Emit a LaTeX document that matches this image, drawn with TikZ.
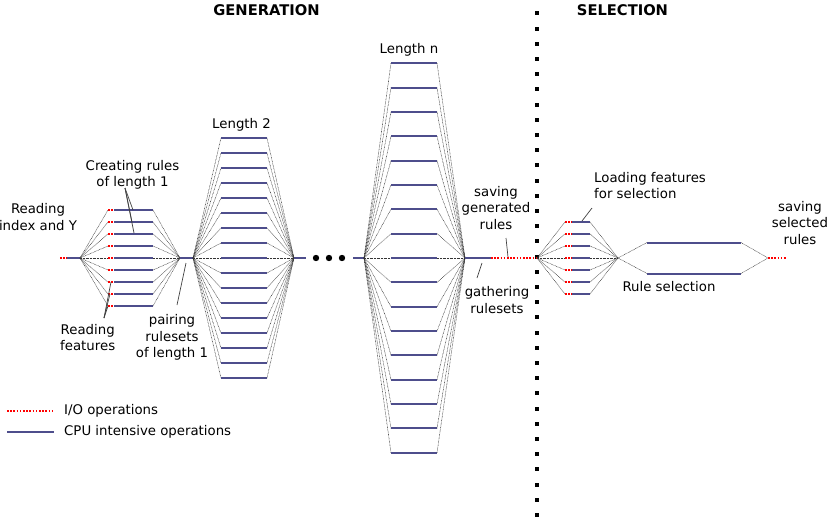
\documentclass[tikz,border=0pt]{standalone}
\usepackage{fontspec}
\setmainfont{DejaVu Sans}
\definecolor{cpublue}{RGB}{78,78,140}
\begin{document}
\begin{tikzpicture}[x=1pt,y=-1pt,
  cpu/.style={draw=cpublue, line width=2pt},
  io/.style={draw=red, line width=1.8pt, dash pattern=on 1.6pt off 1.6pt},
  fan/.style={draw=black!80, line width=0.5pt, dash pattern=on 0.7pt off 0.7pt},
  ptr/.style={draw=black!75, line width=0.7pt},
  lbl/.style={font=\fontsize{13.3}{16.3}\selectfont, align=center, inner sep=0pt},
  ttl/.style={font=\bfseries\fontsize{14.7}{17}\selectfont, inner sep=0pt}]
\useasboundingbox (0,0) rectangle (831,517);

% titles
\node[ttl] (tgen) at (266.5,10) {GENERATION};
\node[ttl] (tsel) at (622.5,10) {SELECTION};

% separator
\foreach \k in {0,...,33} {
  \fill (535,{11.3+15.2*\k}) rectangle ++(4,4);
}

% ---------- length 1 ----------
\coordinate (in0) at (60,258);
\coordinate (in1) at (67,258);
\coordinate (n1) at (80,258);
\coordinate (n2) at (180,258);
\draw[io] (in0) -- (in1);
\draw[cpu] (in1) -- (n1);
\foreach \i in {-4,...,4} {
  \coordinate (r1s\i) at (108,{258+12*\i});
  \coordinate (r1m\i) at (114,{258+12*\i});
  \coordinate (r1e\i) at (153,{258+12*\i});
  \draw[fan] (n1) -- (r1s\i);
  \draw[io] (r1s\i) -- (r1m\i);
  \draw[cpu] (r1m\i) -- (r1e\i);
  \draw[fan] (r1e\i) -- (n2);
}

% ---------- length 2 ----------
\coordinate (n3) at (193,258);
\coordinate (n4) at (294,258);
\draw[cpu] (n2) -- (n3);
\foreach \i in {-8,...,8} {
  \coordinate (r2s\i) at (221,{258+15*\i});
  \coordinate (r2e\i) at (267,{258+15*\i});
  \draw[fan] (n3) -- (r2s\i);
  \draw[cpu] (r2s\i) -- (r2e\i);
  \draw[fan] (r2e\i) -- (n4);
}
\node[lbl] (len2) at (241.5,125) {Length 2};

% ---------- dots ----------
\coordinate (d0) at (306,258);
\coordinate (d1) at (353,258);
\draw[cpu] (n4) -- (d0);
\fill (316,258) circle (3.2);
\fill (329,258) circle (3.2);
\fill (342,258) circle (3.2);

% ---------- length n ----------
\coordinate (n5) at (364,258);
\coordinate (n6) at (465,258);
\draw[cpu] (d1) -- (n5);
\foreach \i in {-8,...,8} {
  \coordinate (rns\i) at (391,{258+24.35*\i});
  \coordinate (rne\i) at (437,{258+24.35*\i});
  \draw[fan] (n5) -- (rns\i);
  \draw[cpu] (rns\i) -- (rne\i);
  \draw[fan] (rne\i) -- (n6);
}
\node[lbl] (lenn) at (409,50) {Length n};

% ---------- gathering / saving ----------
\coordinate (g0) at (491,258);
\coordinate (n7) at (537,258);
\draw[cpu] (n6) -- (g0);
\draw[io] (g0) -- (n7);

% ---------- selection: loading ----------
\coordinate (n8) at (618,258);
\foreach \i in {-3,...,3} {
  \coordinate (lfs\i) at (565,{258+12*\i});
  \coordinate (lfm\i) at (572,{258+12*\i});
  \coordinate (lfe\i) at (590,{258+12*\i});
  \draw[fan] (n7) -- (lfs\i);
  \draw[io] (lfs\i) -- (lfm\i);
  \draw[cpu] (lfm\i) -- (lfe\i);
  \draw[fan] (lfe\i) -- (n8);
}

% ---------- rule selection ----------
\coordinate (n9) at (768,258);
\coordinate (out1) at (787,258);
\coordinate (sa1) at (647,242.5);
\coordinate (sb1) at (741,242.5);
\coordinate (sa2) at (647,273.5);
\coordinate (sb2) at (741,273.5);
\draw[fan] (n8) -- (sa1);
\draw[fan] (n8) -- (sa2);
\draw[cpu] (sa1) -- (sb1);
\draw[cpu] (sa2) -- (sb2);
\draw[fan] (sb1) -- (n9);
\draw[fan] (sb2) -- (n9);
\draw[io] (n9) -- (out1);

% ---------- labels ----------
\node[lbl] (lread) at (38,217) {Reading\\index and Y};
\node[lbl] (lcreate) at (132.5,174.7) {Creating rules\\of length 1};
\node[lbl] (lfeat) at (87.7,337.5) {Reading\\features};
\node[lbl] (lpair) at (172,337.5) {pairing\\rulesets\\of length 1};
\node[lbl] (lsave) at (496,208) {saving\\generated\\rules};
\node[lbl] (lgath) at (497,300) {gathering\\rulesets};
\node[lbl, align=left, anchor=west] (lload) at (594,185.5) {Loading features\\for selection};
\node[lbl] (lrule) at (669,286.7) {Rule selection};
\node[lbl] (lsavesel) at (800,223) {saving\\selected\\rules};

% ---------- pointers ----------
\coordinate (pc) at (125,188);
\coordinate (pc1) at (133,210);
\coordinate (pc2) at (132,222);
\coordinate (pc3) at (134,233);
\draw[ptr] (pc) -- (pc1);
\draw[ptr] (pc) -- (pc2);
\draw[ptr] (pc) -- (pc3);
\coordinate (pf) at (104,318);
\coordinate (pf1) at (111,282);
\coordinate (pf2) at (110,294);
\coordinate (pf3) at (108,306);
\draw[ptr] (pf) -- (pf1);
\draw[ptr] (pf) -- (pf2);
\draw[ptr] (pf) -- (pf3);
\coordinate (pp) at (177,305);
\coordinate (pp1) at (186,263);
\draw[ptr] (pp) -- (pp1);
\coordinate (pg) at (477,278);
\coordinate (pg1) at (482,263);
\draw[ptr] (pg) -- (pg1);
\coordinate (ps) at (506,238);
\coordinate (ps1) at (508,257);
\draw[ptr] (ps) -- (ps1);
\coordinate (pl) at (592,208);
\coordinate (pl1) at (582,221);
\draw[ptr] (pl) -- (pl1);

% ---------- legend ----------
\coordinate (l1a) at (7,410.7);
\coordinate (l1b) at (54,410.7);
\coordinate (l2a) at (7,432.3);
\coordinate (l2b) at (54,432.3);
\draw[io] (l1a) -- (l1b);
\draw[cpu] (l2a) -- (l2b);
\node[lbl, anchor=west] (leg1) at (64,410.7) {I/O operations};
\node[lbl, anchor=west] (leg2) at (64,432.3) {CPU intensive operations};
\end{tikzpicture}
\end{document}
